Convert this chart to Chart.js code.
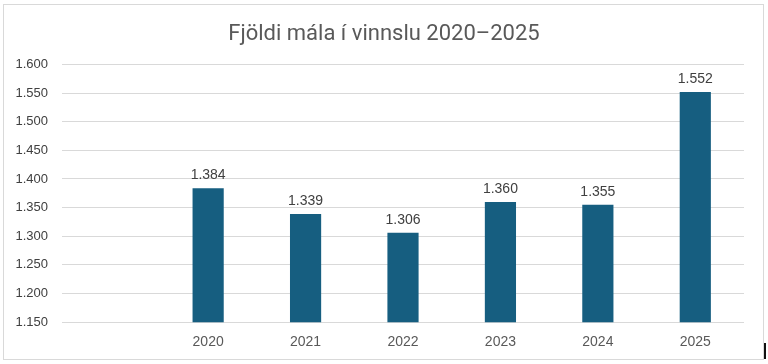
<!DOCTYPE html>
<html>
  <head>
    <title>Fjöldi mála</title>
    <script src="https://cdn.jsdelivr.net/npm/chart.js"></script>
    <style>
      body { margin: 0; background: #ffffff; }
      #wrap { position: relative; width: 768px; height: 364px; }
      #frame {
        position: absolute; left: 3px; top: 4px; width: 759px; height: 354px;
        border: 1px solid #d9d9d9; pointer-events: none;
      }
      #mark {
        position: absolute; left: 764px; top: 343px; width: 2px; height: 16px;
        background: #111111;
      }
    </style>
  </head>

  <body>
    <div id="wrap">
      <canvas id="mal"></canvas>
      <div id="frame"></div>
      <div id="mark"></div>
    </div>

    <script>
      // gögn
      var ar = ["", "2020", "2021", "2022", "2023", "2024", "2025"];
      var fjoldi = [null, 1384, 1339, 1306, 1360, 1355, 1552];
      var yMin = 1150;
      var yMax = 1600;
      var yStep = 50;

      // íslensk tölusnið: 1.384
      function snid(v) {
        var s = Math.round(v).toString();
        return s.replace(/\B(?=(\d{3})+(?!\d))/g, ".");
      }

      var gildiMerki = {
        id: "gildiMerki",
        afterDatasetsDraw: function (chart) {
          var ctx = chart.ctx;
          var meta = chart.getDatasetMeta(0);
          ctx.save();
          ctx.font = "14px 'Liberation Sans', Arial, sans-serif";
          ctx.fillStyle = "#404040";
          ctx.textAlign = "center";
          ctx.textBaseline = "bottom";
          meta.data.forEach(function (bar, i) {
            var v = fjoldi[i];
            if (v == null) return;
            ctx.fillText(snid(v), bar.x, bar.y - 6);
          });
          ctx.restore();
        },
      };

      var mal = new Chart(document.getElementById("mal").getContext("2d"), {
        type: "bar",
        data: {
          labels: ar,
          datasets: [
            {
              label: "Fjöldi mála",
              data: fjoldi,
              backgroundColor: "#165e80",
              barPercentage: 0.8,
              categoryPercentage: 0.4,
            },
          ],
        },
        options: {
          responsive: true,
          maintainAspectRatio: false,
          animation: false,
          layout: { padding: { left: 0, right: 0, bottom: 9, top: 0 } },
          plugins: {
            legend: { display: false },
            tooltip: { enabled: false },
            title: {
              display: true,
              text: "Fjöldi mála í vinnslu 2020–2025",
              color: "#595959",
              font: { family: "Roboto, 'Open Sans', sans-serif", size: 22, weight: "normal" },
              padding: { top: 21, bottom: 17 },
            },
          },
          scales: {
            x: {
              grid: { display: false },
              border: { display: false },
              ticks: {
                color: "#595959",
                font: { family: "'Liberation Sans', Arial, sans-serif", size: 14 },
                padding: 4,
              },
            },
            y: {
              min: yMin,
              max: yMax,
              afterFit: function (axis) { axis.width = 62; },
              border: { display: false },
              grid: { color: "#d9d9d9", drawTicks: false },
              ticks: {
                stepSize: yStep,
                color: "#404040",
                padding: 14,
                font: { family: "'Liberation Sans', Arial, sans-serif", size: 13 },
                callback: function (v) { return snid(v); },
              },
            },
            // tómur ás hægra megin til að halda titlinum fyrir miðju
            hægri: {
              position: "right",
              display: true,
              min: yMin,
              max: yMax,
              afterFit: function (axis) { axis.width = 24; },
              border: { display: false },
              grid: { display: false },
              ticks: { display: false },
            },
          },
        },
        plugins: [gildiMerki],
      });
    </script>
  </body>
</html>
